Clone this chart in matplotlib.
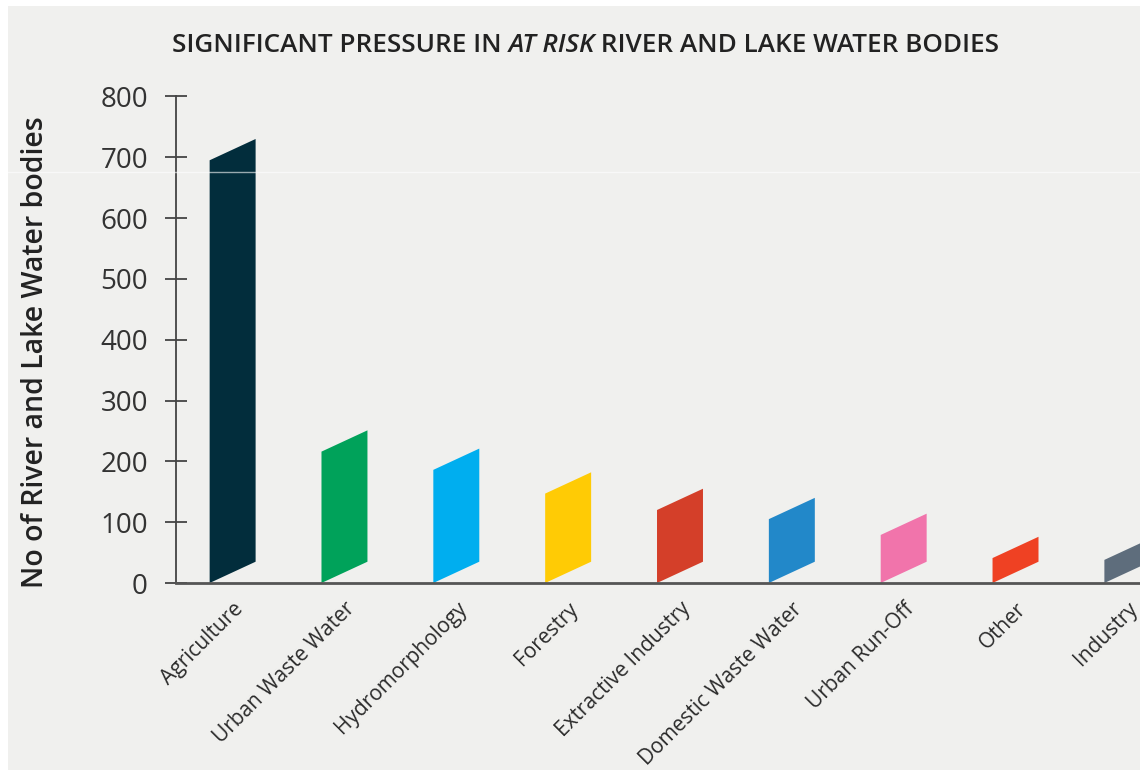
import numpy as np
import matplotlib
matplotlib.use('Agg')
import matplotlib.pyplot as plt
from matplotlib.patches import Polygon, Rectangle

# values (left edge of each bar top)
categories = ['Agriculture', 'Urban Waste Water', 'Hydromorphology', 'Forestry',
              'Extractive Industry', 'Domestic Waste Water', 'Urban Run-Off',
              'Other', 'Industry']
values = [695, 216, 186, 147, 120, 105, 79, 41, 38]
colors = ['#022d3c', '#00a25a', '#00aeef', '#ffcb05', '#d43f29',
          '#2288c9', '#f174ab', '#ef4123', '#5e6d7c']
yticks = [0, 100, 200, 300, 400, 500, 600, 700, 800]

plt.rcParams['font.family'] = ['Open Sans', 'DejaVu Sans']

W, H = 1140, 770
fig = plt.figure(figsize=(W / 100, H / 100), dpi=100)
fig.patch.set_facecolor('white')
fig.patches.append(Rectangle((8 / W, 0), 1 - 8 / W, 1 - 6 / H, transform=fig.transFigure,
                             facecolor='#f0f0ee', edgecolor='none', zorder=-5))

ax = fig.add_axes([175.7 / W, 187 / H, 1 - 175.7 / W, (583 - 96.4) / H])
ax.set_facecolor('none')
ax.set_zorder(2)

bw = 0.411    # bar width in category units
skew = 35     # slant of the bars in data units
for i, (v, c) in enumerate(zip(values, colors)):
    pts = [(i - bw / 2, 0), (i + bw / 2, skew), (i + bw / 2, v + skew), (i - bw / 2, v)]
    ax.add_patch(Polygon(pts, closed=True, facecolor=c, edgecolor='none'))

ax.set_xlim(-0.509, 8.113)
ax.set_ylim(0, 800)

for s in ['top', 'right']:
    ax.spines[s].set_visible(False)
ax.spines['left'].set_color('#444444')
ax.spines['left'].set_linewidth(1.3)
ax.spines['bottom'].set_color('#555555')
ax.spines['bottom'].set_linewidth(2)

ax.set_yticks(yticks)
ax.set_yticklabels([str(t) for t in yticks])
ax.tick_params(axis='y', direction='inout', length=16, width=1.3, color='#444444',
               labelsize=20, labelcolor='#333333', pad=12)

ax.set_xticks(range(len(categories)))
ax.set_xticklabels(categories, rotation=45, ha='right', va='top', rotation_mode='anchor')
ax.tick_params(axis='x', length=0, labelsize=15, labelcolor='#2a2a2a', pad=11)

fig.text(36 / W, 1 - 352.5 / H, 'No of River and Lake Water bodies', rotation=90,
         ha='center', va='center', fontsize=20.5, fontweight='semibold', color='#222222')

# title, with the italic part
tkw = dict(fontsize=18.8, fontweight='semibold', color='#222222', va='bottom')
t1 = fig.text(172 / W, 1 - 58 / H, 'SIGNIFICANT PRESSURE IN', **tkw)
t2 = fig.text(0, 0, ' AT RISK', fontstyle='italic', **tkw)
t3 = fig.text(0, 0, ' RIVER AND LAKE WATER BODIES', **tkw)
fig.canvas.draw()
r = fig.canvas.get_renderer()
bb1 = t1.get_window_extent(r)
t2.set_position((bb1.x1 / W, bb1.y0 / H))
bb2 = t2.get_window_extent(r)
t3.set_position((bb2.x1 / W, bb2.y0 / H))

# faint scan line across the picture
fig.add_artist(plt.Line2D([8 / W, 1], [1 - 172 / H, 1 - 172 / H], transform=fig.transFigure,
                          color='white', lw=1, alpha=0.6, zorder=5))

fig.savefig('out.png', dpi=100, facecolor=fig.get_facecolor())
